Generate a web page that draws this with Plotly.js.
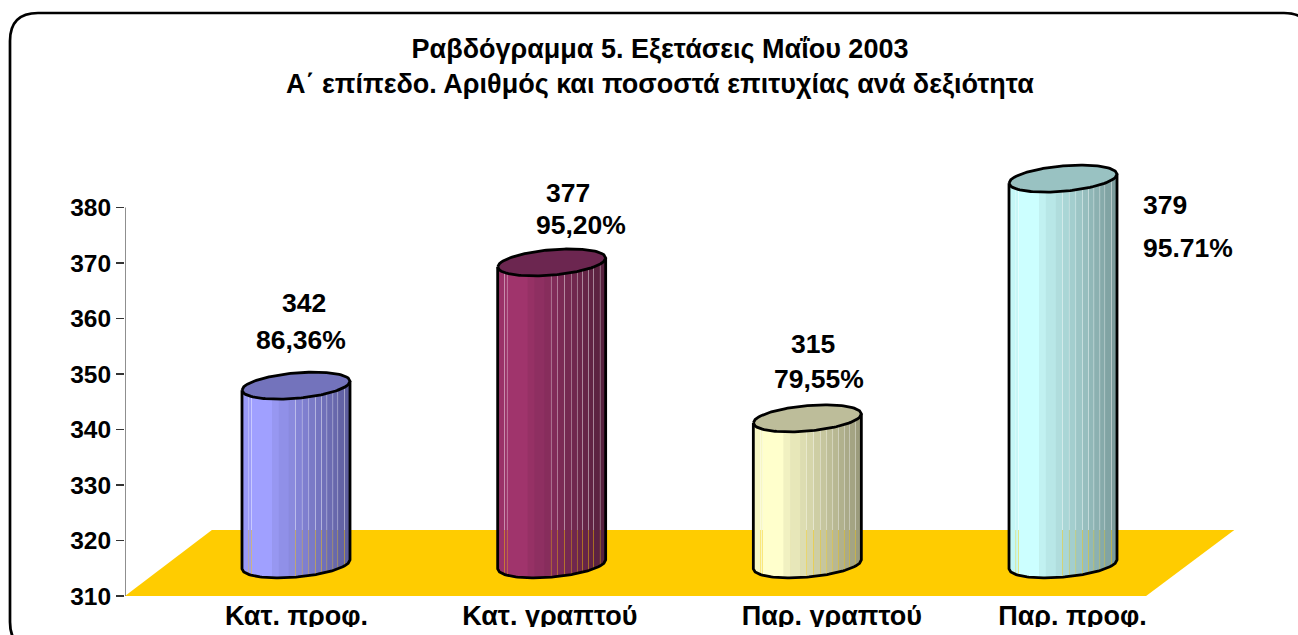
<!DOCTYPE html>
<html><head><meta charset="utf-8">
<script src="https://cdn.plot.ly/plotly-3.0.1.min.js"></script>
<style>html,body{margin:0;padding:0;background:#fff;overflow:hidden}#c{width:1298px;height:635px}</style>
</head><body><div id="c"></div>
<script>
// --- data ---
const categories = ["Κατ. προφ.", "Κατ. γραπτού", "Παρ. γραπτού", "Παρ. προφ."];
const counts = ["342", "377", "315", "379"];
const percents = ["86,36%", "95,20%", "79,55%", "95.71%"];
// heights of the drawn cylinders as read on the value axis
const cylinderTops = [347.9, 370.1, 342.0, 385.2];
const cylinderBase = 315.7;
const yTicks = [310, 320, 330, 340, 350, 360, 370, 380];
const titleLine1 = "Ραβδόγραμμα 5. Εξετάσεις Μαΐου 2003";
const titleLine2 = "Α΄ επίπεδο. Αριθμός και ποσοστά επιτυχίας ανά δεξιότητα";

// --- styling / placement ---
const lightColors = [[160,160,255],[160,52,108],[255,255,204],[204,255,255]];
const darkColors  = [[92,92,155],[84,32,60],[153,153,122],[120,153,153]];
const capColors = ["#7373BC", "#6C2650", "#BDBD9A", "#99C2C2"];
const labelTickX = [0.002, 0.993, 2.096, 3.037];
const countX = [0.031, 1.064, 2.022, 3.399];
const countY = [362.8, 382.6, 355.4, 380.5];
const percentX = [0.02, 1.115, 2.046, 3.489];
const percentY = [356.1, 376.8, 349.1, 372.7];
const floorX = [-0.669, -0.329, 3.67, 3.325];
const floorY = [310, 321.9, 321.9, 310];
const halfW = 0.2112, tilt = 0.81, depth = 2.29;
// bands across a cylinder (-1 left ... 1 right); edges listed in seamEdges let the background through
const bandEdges = [-1,-0.876,-0.828,-0.444,-0.32,-0.135,-0.013,0.11,0.235,0.358,0.469,0.569,0.68,0.772,0.894,1];
const seamEdges = [-0.876,-0.828,-0.013,0.11,0.235,0.358,0.469,0.569,0.68,0.772,0.894];
const seamGap = 0.0065, bandOverlap = 0.012;
const FONT = "Liberation Sans, Arial, sans-serif";

function front(top, u){ return top + tilt*u - depth*Math.sqrt(Math.max(0,1-u*u)); }
function back(top, u){ return top + tilt*u + depth*Math.sqrt(Math.max(0,1-u*u)); }
function mix(a,b,f){ return `rgb(${a.map((v,i)=>Math.round(v+(b[i]-v)*f)).join(",")})`; }
function arc(u0,u1,n){ const r=[]; for(let k=0;k<=n;k++) r.push(u0+(u1-u0)*k/n); return r; }

const traces = [];
traces.push({x:floorX.concat(floorX[0]), y:floorY.concat(floorY[0]), mode:"lines", fill:"toself",
  fillcolor:"#FFCC00", line:{width:0}, hoverinfo:"skip", showlegend:false});

categories.forEach((cat,i)=>{
  const top = cylinderTops[i];
  for(let s=0;s<bandEdges.length-1;s++){
    const u0 = bandEdges[s], u1 = bandEdges[s+1];
    const mid = (u0+u1)/2;
    const f = mid < -0.83 ? 0.08 : Math.max(0, (mid+0.6)/1.6);
    const left = u0 + (seamEdges.includes(u0) ? seamGap : 0);
    const right = seamEdges.includes(u1) || u1===1 ? u1 : u1 + bandOverlap;
    const us = arc(left,right,6);
    const xs=[], ys=[];
    us.forEach(u=>{xs.push(i+u*halfW); ys.push(front(top,u));});
    us.slice().reverse().forEach(u=>{xs.push(i+u*halfW); ys.push(front(cylinderBase,u));});
    xs.push(xs[0]); ys.push(ys[0]);
    traces.push({x:xs,y:ys,mode:"lines",fill:"toself",fillcolor:mix(lightColors[i],darkColors[i],f),line:{width:0},hoverinfo:"skip",showlegend:false,name:cat});
  }
  const bu = arc(-1,1,60);
  traces.push({x:[i-halfW].concat(bu.map(u=>i+u*halfW),[i+halfW]),
    y:[front(top,-1)].concat(bu.map(u=>front(cylinderBase,u)),[front(top,1)]),
    mode:"lines",line:{color:"#000",width:2.8},hoverinfo:"skip",showlegend:false});
  const tu = arc(-1,1,60);
  const cx = tu.map(u=>i+u*halfW).concat(tu.slice().reverse().map(u=>i+u*halfW));
  const cy = tu.map(u=>front(top,u)).concat(tu.slice().reverse().map(u=>back(top,u)));
  traces.push({x:cx,y:cy,mode:"lines",fill:"toself",fillcolor:capColors[i],
    line:{color:"#000",width:2.8},hoverinfo:"skip",showlegend:false});
});

const annotations = [];
const labelFont = {family:FONT,size:26.5,color:"#000"};
categories.forEach((c,i)=>{
  annotations.push({x:countX[i],y:countY[i],text:"<b>"+counts[i]+"</b>",showarrow:false,font:labelFont,xref:"x",yref:"y"});
  annotations.push({x:percentX[i],y:percentY[i],text:"<b>"+percents[i]+"</b>",showarrow:false,font:labelFont,xref:"x",yref:"y"});
});
annotations.push({xref:"paper",yref:"paper",x:(660-125)/1173,y:(596-84)/466,text:"<b>"+titleLine2+"</b>",showarrow:false,
  font:{family:FONT,size:27,color:"#000"}, yanchor:"middle"});

const layout = {
  width:1298,height:635,
  margin:{l:125,r:0,t:130,b:39,pad:0},
  paper_bgcolor:"#fff",plot_bgcolor:"rgba(0,0,0,0)",showlegend:false,hovermode:false,
  title:{text:"<b>"+titleLine1+"</b>",x:660/1298,xanchor:"center",y:1-49/635,yanchor:"middle",font:{family:FONT,size:27,color:"#000"}},
  xaxis:{range:[-171/255.67,(1298-296)/255.67],tickmode:"array",tickvals:labelTickX,ticktext:categories.map(c=>"<b>"+c+"</b>"),
    showgrid:false,zeroline:false,showline:false,ticks:"",ticklabelstandoff:1,tickfont:{family:FONT,size:27,color:"#000"},fixedrange:true},
  yaxis:{range:[310,310+466/5.55],tickmode:"array",tickvals:yTicks,ticktext:yTicks.map(v=>"<b>"+v+"</b>"),
    showgrid:false,zeroline:false,showline:false,ticks:"outside",ticklen:8,tickwidth:1.2,tickcolor:"#333",
    tickfont:{family:FONT,size:24.5,color:"#000"},fixedrange:true},
  annotations:annotations,
  shapes:[
    {type:"line",xref:"x",yref:"y",x0:-171/255.67,x1:-171/255.67,y0:310,y1:380,line:{color:"#444",width:1.2},layer:"above"},
    {type:"rect",xref:"paper",yref:"paper",x0:0.05,x1:0.95,y0:0,y1:0,fillcolor:"#fff",line:{width:0},layer:"above"},
    {type:"path",xref:"paper",yref:"paper",layer:"above",path:"M 0 0",line:{width:0}}
  ]
};
(function(){
  const W=1173,H=466,px=v=>(v-125)/W,py=v=>(596-v)/H;
  const L=10,T=13,R=1312,B=650,r=28;
  layout.shapes[2].path=`M ${px(L+r)} ${py(T)} L ${px(R-r)} ${py(T)} Q ${px(R)} ${py(T)} ${px(R)} ${py(T+r)} L ${px(R)} ${py(B-r)} Q ${px(R)} ${py(B)} ${px(R-r)} ${py(B)} L ${px(L+r)} ${py(B)} Q ${px(L)} ${py(B)} ${px(L)} ${py(B-r)} L ${px(L)} ${py(T+r)} Q ${px(L)} ${py(T)} ${px(L+r)} ${py(T)} Z`;
  layout.shapes[2].line={color:"#000",width:2.7};
  layout.shapes[2].fillcolor="rgba(0,0,0,0)";
  layout.shapes[1].y0=(596-635)/H; layout.shapes[1].y1=(596-627)/H;
})();
Plotly.newPlot("c",traces,layout,{displayModeBar:false,staticPlot:true});
</script></body></html>
